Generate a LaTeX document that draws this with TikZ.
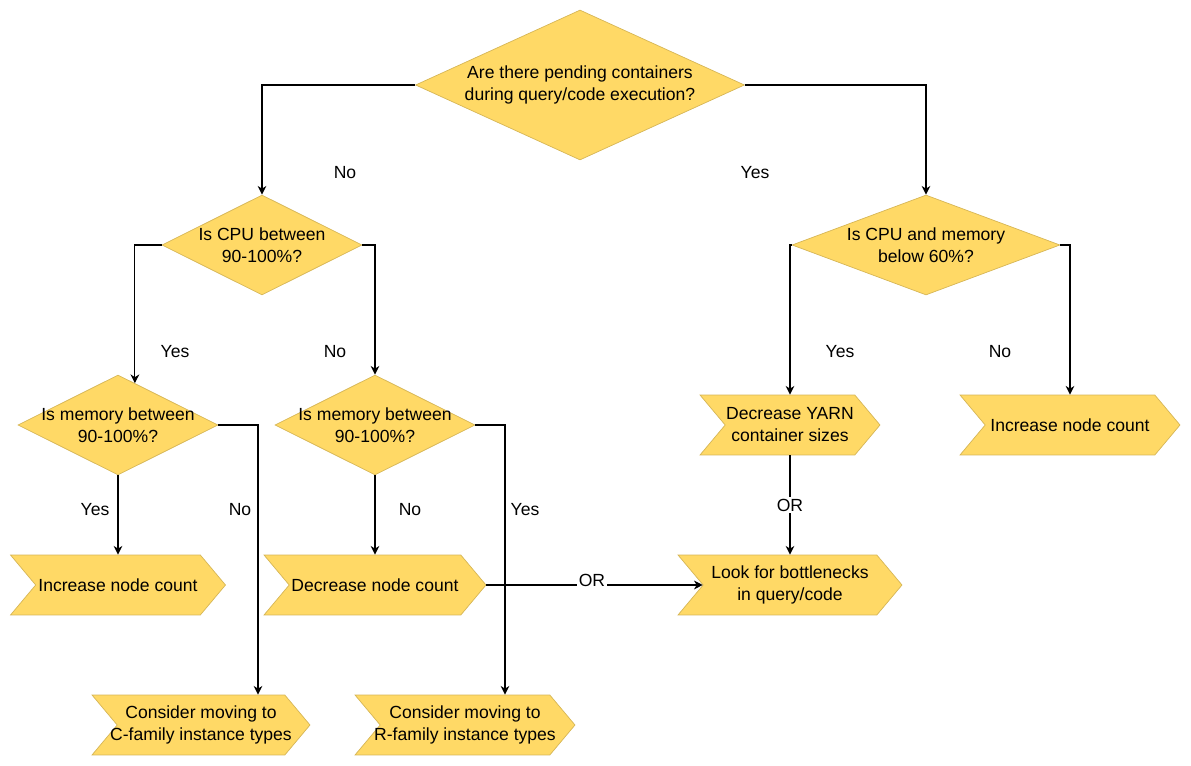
\documentclass[tikz,border=0pt]{standalone}
\usepackage{fontspec}
\setmainfont{Liberation Sans}
\usetikzlibrary{shapes.geometric,shapes.symbols,arrows.meta,calc}
\definecolor{boxfill}{HTML}{FFD966}
\definecolor{boxdraw}{HTML}{D6B656}
\tikzstyle{question}=[diamond,fill=boxfill,draw=boxdraw,inner sep=0pt,
  			  minimum width=4cm,minimum height=2cm]
\tikzstyle{action}=[signal,signal from=west,signal to=east,signal pointer angle=100,
  			  fill=boxfill,draw=boxdraw,inner sep=0pt,minimum width=4.4cm,minimum height=1.2cm]
\tikzstyle{arrow}=[-{Stealth[length=5pt,width=5pt]},line width=.6pt]
\tikzstyle{ortext}=[fill=white,inner sep=1pt]

\begin{document}
\begin{tikzpicture}[x=0.02cm,y=-0.02cm,font=\fontsize{10}{12.5}\selectfont,
                    every label/.style={align=center}]
	\useasboundingbox (0,0) rectangle (1191,766);
	% questions
	\node[question,minimum width=6.58cm,minimum height=3cm,
	  label={center:Are there pending containers\\during query/code execution?}] (q0) at (580,85) {};
	\node[question,label={center:Is CPU between\\90-100\%?}] (q1) at (262,245) {};
	\node[question,minimum width=5.36cm,
	  label={center:Is CPU and memory\\below 60\%?}] (q2) at (926,245) {};
	\node[question,label={center:Is memory between\\90-100\%?}] (q3) at (118,425) {};
	\node[question,label={center:Is memory between\\90-100\%?}] (q4) at (375,425) {};
	% actions
	\node[action,minimum width=4.3cm,label={center:Increase node count}] (a1) at (118,585) {};
	\node[action,minimum width=4.36cm,
	  label={center:Consider moving to\\C-family instance types}] (a2) at (201,725) {};
	\node[action,minimum width=4.44cm,label={center:Decrease node count}] (a3) at (375,585) {};
	\node[action,label={center:Consider moving to\\R-family instance types}] (a4) at (465,725) {};
	\node[action,minimum width=3.6cm,
	  label={center:Decrease YARN\\container sizes}] (b1) at (790,425) {};
	\node[action,label={center:Increase node count}] (b2) at (1070,425) {};
	\node[action,minimum width=4.48cm,
	  label={center:Look for bottlenecks\\in query/code}] (c1) at (790,585) {};

	\draw[arrow] (q0.west) -| (q1.north) node at (345,173) {No};
	\draw[arrow] (q0.east) -| (q2.north) node at (755,173) {Yes};
	\draw[arrow] (q1.west) -| (q3.68) node at (175,352) {Yes};
	\draw[arrow] (q1.east) -| (q4.north) node at (335,352) {No};
	\draw[arrow] (q2.west) -| (b1.north) node at (840,352) {Yes};
	\draw[arrow] (q2.east) -| (b2.north) node at (1000,352) {No};
	\draw[arrow] (q3.south) -- (a1.north) node at (95,510) {Yes};
	\draw[arrow] (q3.east) -| ($(a2.north)+(57,0)$) node at (240,510) {No};
	\draw[arrow] (q4.south) -- (a3.north) node at (410,510) {No};
	\draw[arrow] (q4.east) -| ($(a4.north)+(40,0)$) node at (525,510) {Yes};
	\draw[arrow] (b1.south) -- (c1.north) node[ortext] at (790,505) {OR};
	\draw[arrow] (a3.east) -- (c1.west) node[ortext] at (592,580) {OR};
\end{tikzpicture}
\end{document}
